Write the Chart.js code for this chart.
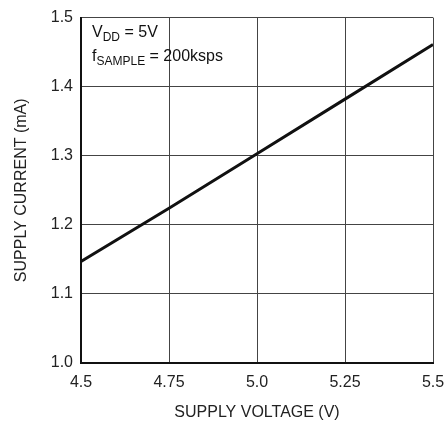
<!DOCTYPE html>
<html>
<head>
<meta charset="utf-8">
<script src="https://cdn.jsdelivr.net/npm/chart.js@4"></script>
<style>
  html, body { margin: 0; padding: 0; background: #fff; }
  #wrap { width: 444px; height: 423px; }
</style>
</head>
<body>
<div id="wrap"><canvas id="canvas-supply"></canvas></div>
<script>
const voltages = [4.5, 4.75, 5.0, 5.25, 5.5];
const currents = [1.147, 1.224, 1.303, 1.382, 1.461];
const xTicks = ["4.5", "4.75", "5.0", "5.25", "5.5"];
const yTicks = ["1.0", "1.1", "1.2", "1.3", "1.4", "1.5"];

const FONT = "'Liberation Sans', Arial, sans-serif";

const notePlugin = {
  id: "note",
  afterDraw(chart) {
    const ctx = chart.ctx;
    const x0 = chart.chartArea.left + 11;
    ctx.save();
    ctx.fillStyle = "#111";
    ctx.textBaseline = "alphabetic";
    function sub(parts, x, y) {
      parts.forEach((p) => {
        ctx.font = (p[1] ? "12px " : "16px ") + FONT;
        ctx.fillText(p[0], x, p[1] ? y + 4 : y);
        x += ctx.measureText(p[0]).width;
      });
    }
    sub([["V", false], ["DD", true], [" = 5V", false]], x0, 37);
    sub([["f", false], ["SAMPLE", true], [" = 200ksps", false]], x0, 61);
    ctx.restore();
  },
};

function createGraficoSupply() {
  const data = {
    datasets: [
      {
        data: voltages.map((v, i) => ({ x: v, y: currents[i] })),
        borderColor: "#111",
        borderWidth: 3,
        pointRadius: 0,
        fill: false,
        tension: 0,
      },
    ],
  };

  const config = {
    type: "line",
    data: data,
    options: {
      responsive: true,
      maintainAspectRatio: false,
      animation: false,
      layout: { padding: { top: 13, right: 0, left: 0, bottom: 0 } },
      plugins: { legend: { display: false }, tooltip: { enabled: false } },
      scales: {
        x: {
          type: "linear",
          min: 4.5,
          max: 5.5,
          afterBuildTicks(axis) {
            axis.ticks = voltages.map((v) => ({ value: v }));
          },
          afterFit(axis) {
            axis.height = 60;
            axis.paddingLeft = 0;
            axis.paddingRight = 11;
          },
          ticks: {
            autoSkip: false,
            maxRotation: 0,
            padding: 10,
            color: "#222",
            font: { family: FONT, size: 16 },
            callback: (v, i) => xTicks[i],
          },
          grid: { color: "#444", lineWidth: 1, drawTicks: false },
          border: { color: "#111", width: 2 },
          title: {
            display: true,
            text: "SUPPLY VOLTAGE (V)",
            color: "#222",
            font: { family: FONT, size: 16 },
            padding: { top: 0, bottom: 1 },
          },
        },
        y: {
          min: 1.0,
          max: 1.5,
          afterBuildTicks(axis) {
            axis.ticks = yTicks.map((t) => ({ value: parseFloat(t) }));
          },
          afterFit(axis) {
            axis.width = 81;
          },
          ticks: {
            padding: 8,
            color: "#222",
            font: { family: FONT, size: 16 },
            callback: (v, i) => yTicks[i],
          },
          grid: { color: "#444", lineWidth: 1, drawTicks: false },
          border: { color: "#111", width: 2 },
          title: {
            display: true,
            text: "SUPPLY CURRENT (mA)",
            color: "#222",
            font: { family: FONT, size: 16 },
            padding: { top: 12, bottom: 0 },
          },
        },
      },
    },
    plugins: [notePlugin],
  };

  new Chart(document.getElementById("canvas-supply"), config);
}

document.addEventListener("DOMContentLoaded", createGraficoSupply);
</script>
</body>
</html>
